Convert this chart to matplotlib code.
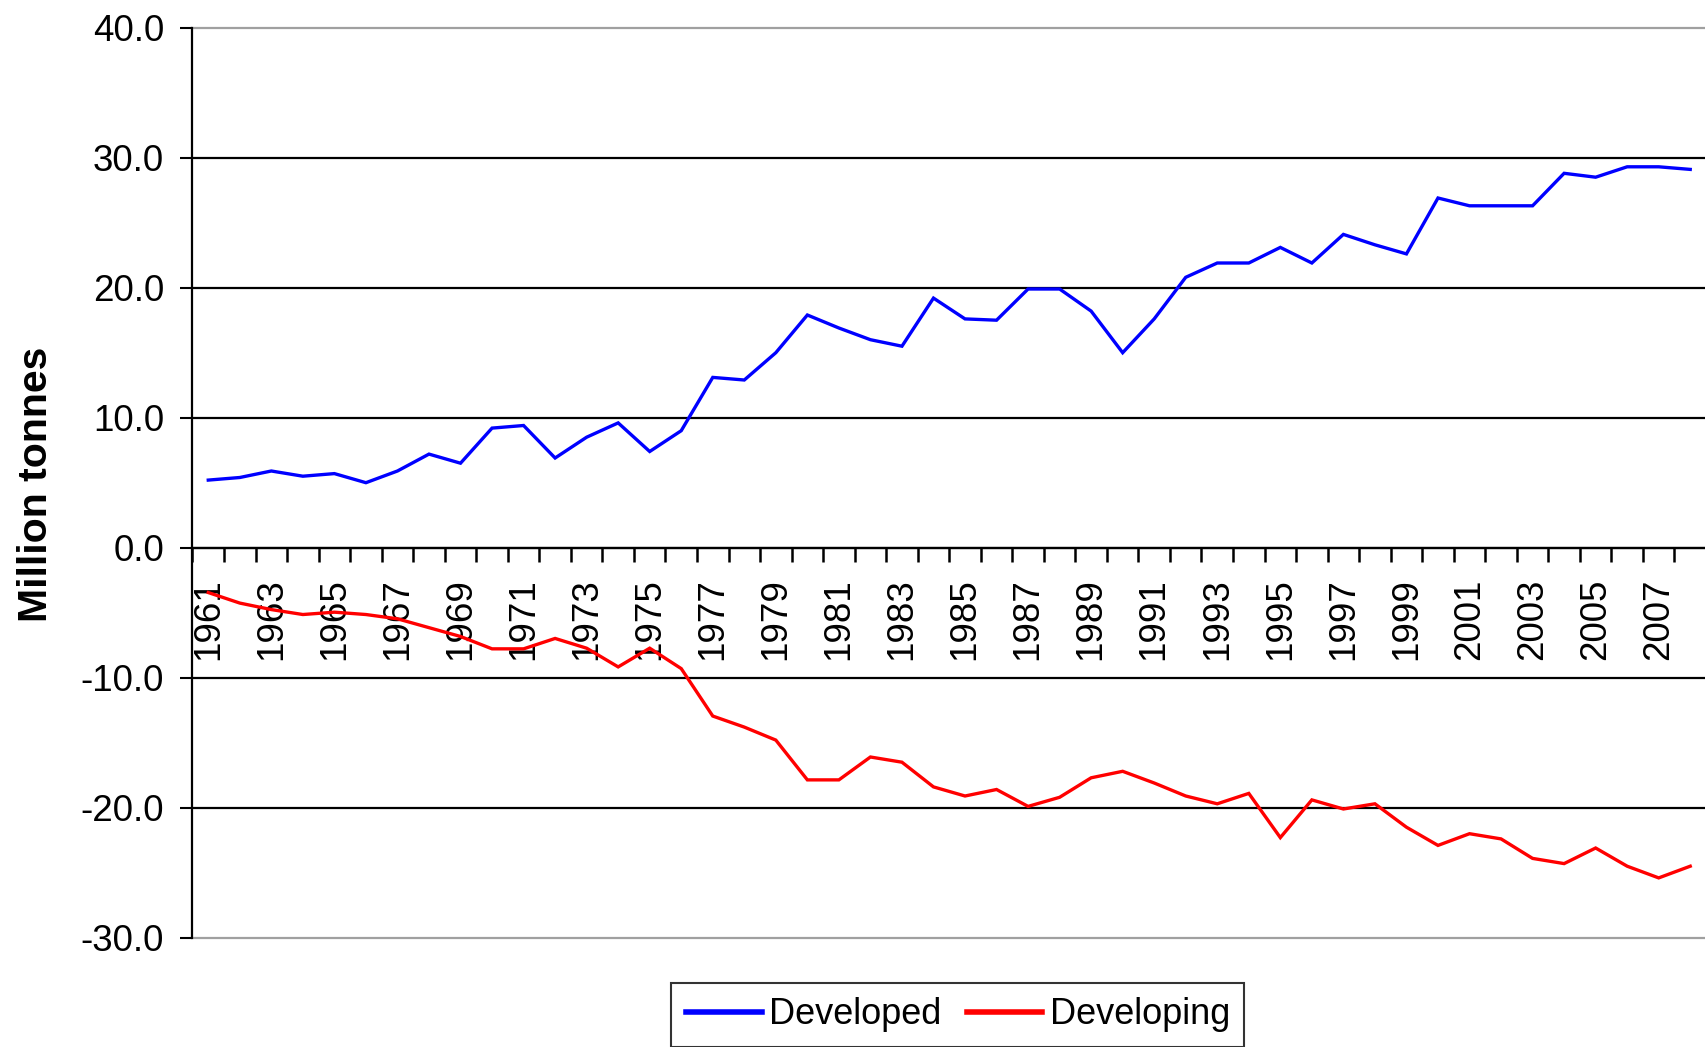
#!/usr/bin/env python
"""
Net trade by country group, 1961-2008 (million tonnes).
"""

# Third party modules.
import numpy as np
import matplotlib
matplotlib.use("Agg")
import matplotlib.pyplot as plt
from matplotlib.ticker import FixedLocator, FixedFormatter, NullFormatter

# Globals and constants variables.
years = list(range(1961, 2009))

developed = [5.2, 5.4, 5.9, 5.5, 5.7, 5.0, 5.9, 7.2, 6.5, 9.2,
             9.4, 6.9, 8.5, 9.6, 7.4, 9.0, 13.1, 12.9, 15.0, 17.9,
             16.9, 16.0, 15.5, 19.2, 17.6, 17.5, 19.9, 19.9, 18.2, 15.0,
             17.6, 20.8, 21.9, 21.9, 23.1, 21.9, 24.1, 23.3, 22.6, 26.9,
             26.3, 26.3, 26.3, 28.8, 28.5, 29.3, 29.3, 29.1]

developing = [-3.45, -4.26, -4.76, -5.14, -4.96, -5.14, -5.47, -6.15, -6.83, -7.78,
              -7.78, -6.98, -7.73, -9.17, -7.73, -9.3, -12.95, -13.8, -14.8, -17.86,
              -17.86, -16.1, -16.5, -18.4, -19.1, -18.6, -19.9, -19.2, -17.7, -17.2,
              -18.1, -19.1, -19.7, -18.9, -22.3, -19.4, -20.1, -19.7, -21.5, -22.9,
              -22.0, -22.4, -23.9, -24.3, -23.1, -24.5, -25.4, -24.5]

seriesNames = ["Developed", "Developing"]
seriesColors = ["#0000ff", "#ff0000"]

yTicks = [-30, -20, -10, 0, 10, 20, 30, 40]

plt.rcParams['font.family'] = ['Liberation Sans', 'DejaVu Sans']
plt.rcParams['axes.unicode_minus'] = False

fig = plt.figure(figsize=(17.06, 10.47), dpi=100)
ax = fig.add_axes([192.5 / 1706, 1 - 937.7 / 1047, 1 - 192.5 / 1706, (937.7 - 27.7) / 1047])

x = np.arange(len(years))
for values, name, color in zip([developed, developing], seriesNames, seriesColors):
    ax.plot(x, values, color=color, lw=2.4, label=name, solid_joinstyle='miter', zorder=3)

ax.set_xlim(-0.5, len(years) - 0.5)
ax.set_ylim(yTicks[0], yTicks[-1])

# y axis
ax.set_yticks(yTicks)
ax.set_yticklabels(["%.1f" % v for v in yTicks])
ax.tick_params(axis='y', direction='out', length=8.6, width=1.5, pad=12, labelsize=26.5, colors='black')
ax.yaxis.grid(True, which='major', color='black', lw=1.6)
for line, value in zip(ax.get_ygridlines(), yTicks):
    if value in (yTicks[0], yTicks[-1]):
        line.set_color('#a0a0a0')
        line.set_clip_on(False)

# x axis crosses at zero, category style: tick marks between years,
# labels (every other year) centred on the years
ax.spines['bottom'].set_position(('data', 0))
ax.spines['bottom'].set_linewidth(1.6)
ax.spines['left'].set_linewidth(1.6)
ax.spines['top'].set_visible(False)
ax.spines['right'].set_visible(False)

ax.xaxis.set_major_locator(FixedLocator(np.arange(len(years) + 1) - 0.5))
ax.xaxis.set_major_formatter(NullFormatter())
ax.xaxis.set_minor_locator(FixedLocator(x[::2]))
ax.xaxis.set_minor_formatter(FixedFormatter([str(y) for y in years[::2]]))
ax.tick_params(axis='x', which='major', direction='out', length=10, width=1.8, color='black')
ax.tick_params(axis='x', which='minor', length=0, pad=22, labelsize=26.5, labelrotation=90)

fig.text(36 / 1706, 1 - 484 / 1047, "Million tonnes", rotation=90, ha='center', va='center',
         fontsize=29.5, fontweight='bold')

legend = fig.legend(loc='upper left', bbox_to_anchor=(671.5 / 1706, 1 - 983 / 1047),
                    bbox_transform=fig.transFigure, ncol=2, fontsize=26, frameon=True,
                    fancybox=False, borderaxespad=0, borderpad=0.4, handlelength=2.1,
                    handletextpad=0.2, columnspacing=0.7)
legend.get_frame().set_edgecolor('black')
legend.get_frame().set_linewidth(1.5)
for handle in legend.get_lines():
    handle.set_linewidth(4)

fig.savefig("out.png", dpi=100)
